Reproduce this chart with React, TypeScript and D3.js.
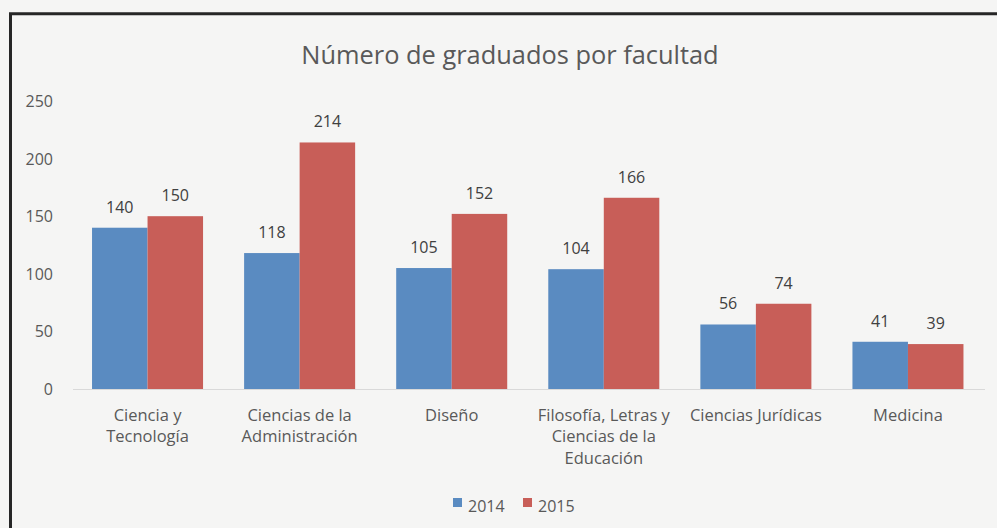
import React, { useEffect, useRef } from 'react';
import * as d3 from 'd3';

// chart data
const faculties = [
  'Ciencia y|Tecnología',
  'Ciencias de la|Administración',
  'Diseño',
  'Filosofía, Letras y|Ciencias de la|Educación',
  'Ciencias Jurídicas',
  'Medicina',
];
const years = ['2014', '2015'];
const grads2014 = [140, 118, 105, 104, 56, 41];
const grads2015 = [150, 214, 152, 166, 74, 39];
const yTicks = [0, 50, 100, 150, 200, 250];

const W = 997;
const H = 528;
const FONT = '"Open Sans", sans-serif';
const TEXT = '#595959';

function App() {
  const svgRef = useRef<SVGSVGElement>(null);

  useEffect(() => {
    const svg = d3.select(svgRef.current);
    svg.selectAll('*').remove();

    // page background + frame
    svg.append('rect').attr('width', W).attr('height', H).attr('fill', '#f5f5f4');
    svg.append('path')
      .attr('d', `M10.5,${H + 5} V13.8 H${W + 5}`)
      .attr('fill', 'none')
      .attr('stroke', '#262626')
      .attr('stroke-width', 3);

    const plot = { left: 73, right: 985, top: 101, bottom: 389 };

    const x0 = d3.scaleBand<string>()
      .domain(faculties)
      .range([71.5, 984])
      .paddingInner(0.27)
      .paddingOuter(0.135);

    const x1 = d3.scaleBand<string>()
      .domain(years)
      .range([0, x0.bandwidth()]);

    const y = d3.scaleLinear().domain([0, 250]).range([plot.bottom, plot.top]);

    const color = d3.scaleOrdinal<string, string>()
      .domain(years)
      .range(['#5a8bc1', '#c85e58']);

    // title
    svg.append('text')
      .attr('x', 510)
      .attr('y', 64)
      .attr('text-anchor', 'middle')
      .style('font-family', FONT)
      .style('font-size', '25.4px')
      .attr('fill', TEXT)
      .text('Número de graduados por facultad');

    // y axis labels (no gridlines in the original)
    svg.append('g')
      .selectAll('text')
      .data(yTicks)
      .join('text')
      .attr('x', 53)
      .attr('y', d => y(d) + 6)
      .attr('text-anchor', 'end')
      .style('font-family', FONT)
      .style('font-size', '16px')
      .attr('fill', TEXT)
      .text(d => d);

    // bars
    const rows = faculties.map((f, i) => ({ f, vals: [grads2014[i], grads2015[i]] }));
    const groups = svg.append('g')
      .selectAll('g')
      .data(rows)
      .join('g')
      .attr('transform', d => `translate(${x0(d.f)},0)`);

    groups.selectAll('rect')
      .data(d => d.vals.map((v, j) => ({ yr: years[j], v })))
      .join('rect')
      .attr('x', d => x1(d.yr)!)
      .attr('width', x1.bandwidth())
      .attr('y', d => y(d.v))
      .attr('height', d => y(0) - y(d.v))
      .attr('fill', d => color(d.yr));

    groups.selectAll('text')
      .data(d => d.vals.map((v, j) => ({ yr: years[j], v })))
      .join('text')
      .attr('x', d => x1(d.yr)! + x1.bandwidth() / 2)
      .attr('y', d => y(d.v) - 15)
      .attr('text-anchor', 'middle')
      .style('font-family', FONT)
      .style('font-size', '16px')
      .attr('fill', '#404040')
      .text(d => d.v);

    // baseline
    svg.append('line')
      .attr('x1', plot.left).attr('x2', plot.right)
      .attr('y1', y(0) + 0.5).attr('y2', y(0) + 0.5)
      .attr('stroke', '#d9d9d9');

    // category labels, split on '|'
    const cat = svg.append('g')
      .selectAll('text')
      .data(faculties)
      .join('text')
      .attr('text-anchor', 'middle')
      .style('font-family', FONT)
      .style('font-size', '16.5px')
      .attr('fill', TEXT);

    cat.selectAll('tspan')
      .data(d => d.split('|').map(s => ({ s, c: x0(d)! + x0.bandwidth() / 2 })))
      .join('tspan')
      .attr('x', d => d.c)
      .attr('y', (d, i) => 420.5 + i * 21.5)
      .text(d => d.s);

    // legend
    const leg = svg.append('g')
      .selectAll('g')
      .data(years)
      .join('g')
      .attr('transform', (d, i) => `translate(${453 + i * 70},498)`);
    leg.append('rect').attr('width', 9).attr('height', 9).attr('fill', d => color(d));
    leg.append('text')
      .attr('x', 15)
      .attr('y', 13.5)
      .style('font-family', FONT)
      .style('font-size', '16px')
      .attr('fill', TEXT)
      .text(d => d);
  }, []);

  return (
    <div style={{ position: 'absolute', left: 0, top: 0 }}>
      <svg ref={svgRef} width={W} height={H} style={{ display: 'block' }} />
    </div>
  );
}

export default App;
